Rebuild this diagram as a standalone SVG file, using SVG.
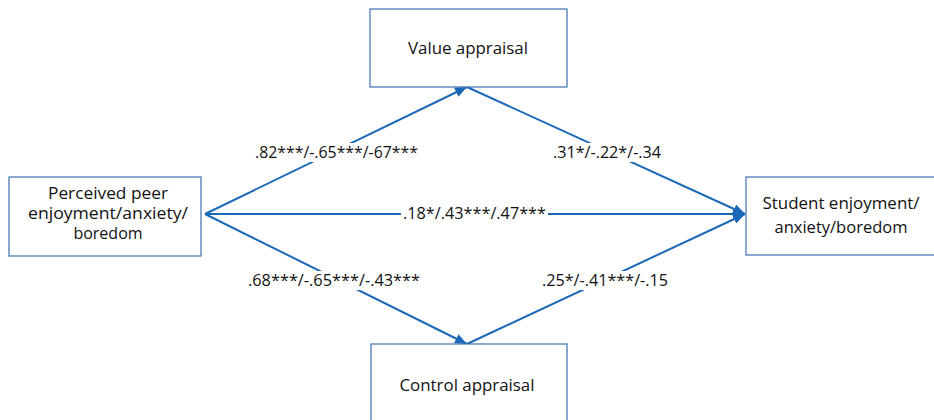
<svg xmlns="http://www.w3.org/2000/svg" width="934" height="420" viewBox="0 0 934 420">
<style>
.box{fill:#fff;stroke:#3a6fae;stroke-width:1.2}
.t{font-family:"Open Sans","Liberation Sans",Arial,sans-serif;font-size:16px;fill:#111;text-anchor:middle}
.ln{stroke:#1c68b8;stroke-width:2;fill:none}
.bg{fill:#fff}
</style>
<defs>
<marker id="ah" viewBox="0 0 12 10" refX="12" refY="5" markerWidth="12" markerHeight="10" markerUnits="userSpaceOnUse" orient="auto">
<path d="M0,0 L12,5 L0,10 Z" fill="#1c68b8"/>
</marker>
</defs>
<rect width="934" height="420" fill="#fff"/>
<g id="connectors">
<line class="ln" x1="205" y1="214" x2="467" y2="87" marker-end="url(#ah)"/>
<line class="ln" x1="467" y1="87" x2="745" y2="214" marker-end="url(#ah)"/>
<line class="ln" x1="205" y1="214" x2="745" y2="214" marker-end="url(#ah)"/>
<line class="ln" x1="205" y1="214" x2="467" y2="344" marker-end="url(#ah)"/>
<line class="ln" x1="467" y1="344" x2="745" y2="214" marker-end="url(#ah)"/>
<rect class="bg" x="251" y="143" width="171" height="19"/>
<text class="t" x="336.5" y="158" textLength="163" lengthAdjust="spacingAndGlyphs">.82***/-.65***/-67***</text>
<rect class="bg" x="549" y="143" width="116" height="19"/>
<text class="t" x="607" y="158" textLength="108" lengthAdjust="spacingAndGlyphs">.31*/-.22*/-.34</text>
<rect class="bg" x="401" y="204" width="147" height="19"/>
<text class="t" x="474.5" y="219" textLength="143" lengthAdjust="spacingAndGlyphs">.18*/.43***/.47***</text>
<rect class="bg" x="244" y="271" width="180" height="19"/>
<text class="t" x="334" y="286" textLength="172" lengthAdjust="spacingAndGlyphs">.68***/-.65***/-.43***</text>
<rect class="bg" x="538" y="271" width="134" height="19"/>
<text class="t" x="605" y="286" textLength="126" lengthAdjust="spacingAndGlyphs">.25*/-.41***/-.15</text>
</g>
<g id="value">
<rect class="box" x="370" y="9" width="197" height="78"/>
<text class="t" x="468" y="54" textLength="120" lengthAdjust="spacingAndGlyphs">Value appraisal</text>
</g>
<g id="perceived">
<rect class="box" x="9" y="177" width="192" height="79"/>
<text class="t" x="108" y="199" textLength="120" lengthAdjust="spacingAndGlyphs">Perceived peer</text>
<text class="t" x="108" y="219" textLength="160" lengthAdjust="spacingAndGlyphs">enjoyment/anxiety/</text>
<text class="t" x="108" y="239">boredom</text>
</g>
<g id="student">
<rect class="box" x="746" y="177" width="200" height="78"/>
<text class="t" x="841" y="209" textLength="157" lengthAdjust="spacingAndGlyphs">Student enjoyment/</text>
<text class="t" x="841" y="233" textLength="133" lengthAdjust="spacingAndGlyphs">anxiety/boredom</text>
</g>
<g id="control">
<rect class="box" x="371" y="344" width="196" height="90"/>
<text class="t" x="467" y="391" textLength="135" lengthAdjust="spacingAndGlyphs">Control appraisal</text>
</g>
</svg>
